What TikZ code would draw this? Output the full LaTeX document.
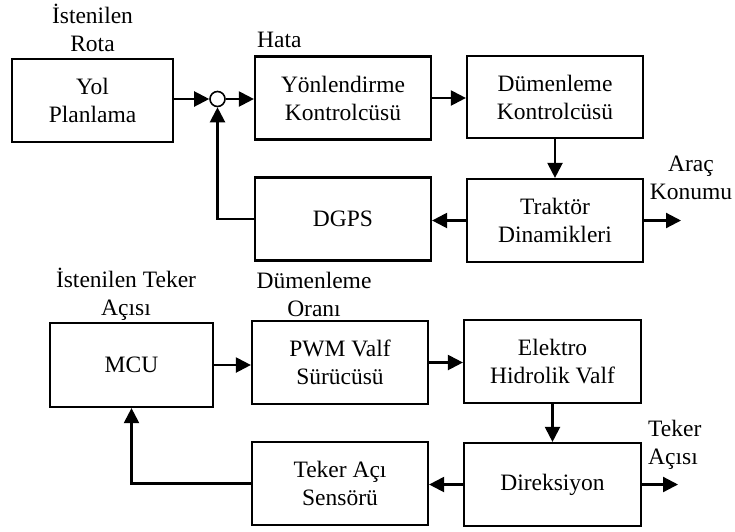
\documentclass[tikz,border=0pt]{standalone}
\usepackage{fontspec}
\setmainfont{Liberation Serif}
\usetikzlibrary{arrows.meta}
\begin{document}
\begin{tikzpicture}[x=1pt,y=-1pt,
  txt/.style={font=\fontsize{23.5}{28}\selectfont, align=center, inner sep=0pt},
  block/.style={txt, draw, line width=2.2pt, minimum width=176pt, minimum height=83pt},
  conn/.style={line width=2.2pt, -{Triangle[length=15pt,width=15pt]}},
]
\useasboundingbox (0,0) rectangle (735,531);

% upper loop: path guidance
\node[block, minimum width=161pt] (yol) at (92.5,100.5) {Yol\\Planlama};
\node[draw, circle, line width=1.6pt, minimum size=15pt, inner sep=0pt] (sum) at (217.5,99) {};
\node[block] (yon) at (343,98) {Yönlendirme\\Kontrolcüsü};
\node[block, minimum height=82pt] (dum) at (555,97) {Dümenleme\\Kontrolcüsü};
\node[block] (trak) at (555,220.5) {Traktör\\Dinamikleri};
\node[block] (dgps) at (343,219) {DGPS};

\node[txt] (rota) at (92.5,28) {İstenilen\\Rota};
\node[txt, anchor=west] (hata) at (257,40) {Hata};
\node[txt] (konum) at (691,178) {Araç\\Konumu};
\coordinate (konumEnd) at (681,220.5);

\draw[conn] (yol.east |- sum.west) -- (sum.west);
\draw[conn] (sum.east) -- (sum.east -| yon.west);
\draw[conn] (yon.east) -- (yon.east -| dum.west);
\draw[conn] (dum.south) -- (trak.north);
\draw[conn] (trak.west) -- (trak.west -| dgps.east);
\draw[conn] (dgps.west) -| (sum.south);
\draw[conn] (trak.east) -- (konumEnd);

% lower loop: wheel angle control
\node[block, minimum width=163pt, minimum height=84pt] (mcu) at (131.5,365) {MCU};
\node[block] (pwm) at (340,362.5) {PWM Valf\\Sürücüsü};
\node[block, minimum width=177pt] (elek) at (552.5,361.5) {Elektro\\Hidrolik Valf};
\node[block, minimum width=177pt] (dir) at (552.5,484.5) {Direksiyon};
\node[block] (sens) at (340,483.5) {Teker Açı\\Sensörü};

\node[txt] (istTeker) at (126,294) {İstenilen Teker\\Açısı};
\node[txt] (oran) at (314,294) {Dümenleme\\Oranı};
\node[txt, anchor=west, align=left] (tekerAci) at (648,445) {Teker\\Açısı};
\coordinate (tekerEnd) at (678,484.5);

\draw[conn] (mcu.east) -- (mcu.east -| pwm.west);
\draw[conn] (pwm.east) -- (pwm.east -| elek.west);
\draw[conn] (elek.south) -- (dir.north);
\draw[conn] (dir.west) -- (dir.west -| sens.east);
\draw[conn] (sens.west) -| (mcu.south);
\draw[conn] (dir.east) -- (tekerEnd);
\end{tikzpicture}
\end{document}
